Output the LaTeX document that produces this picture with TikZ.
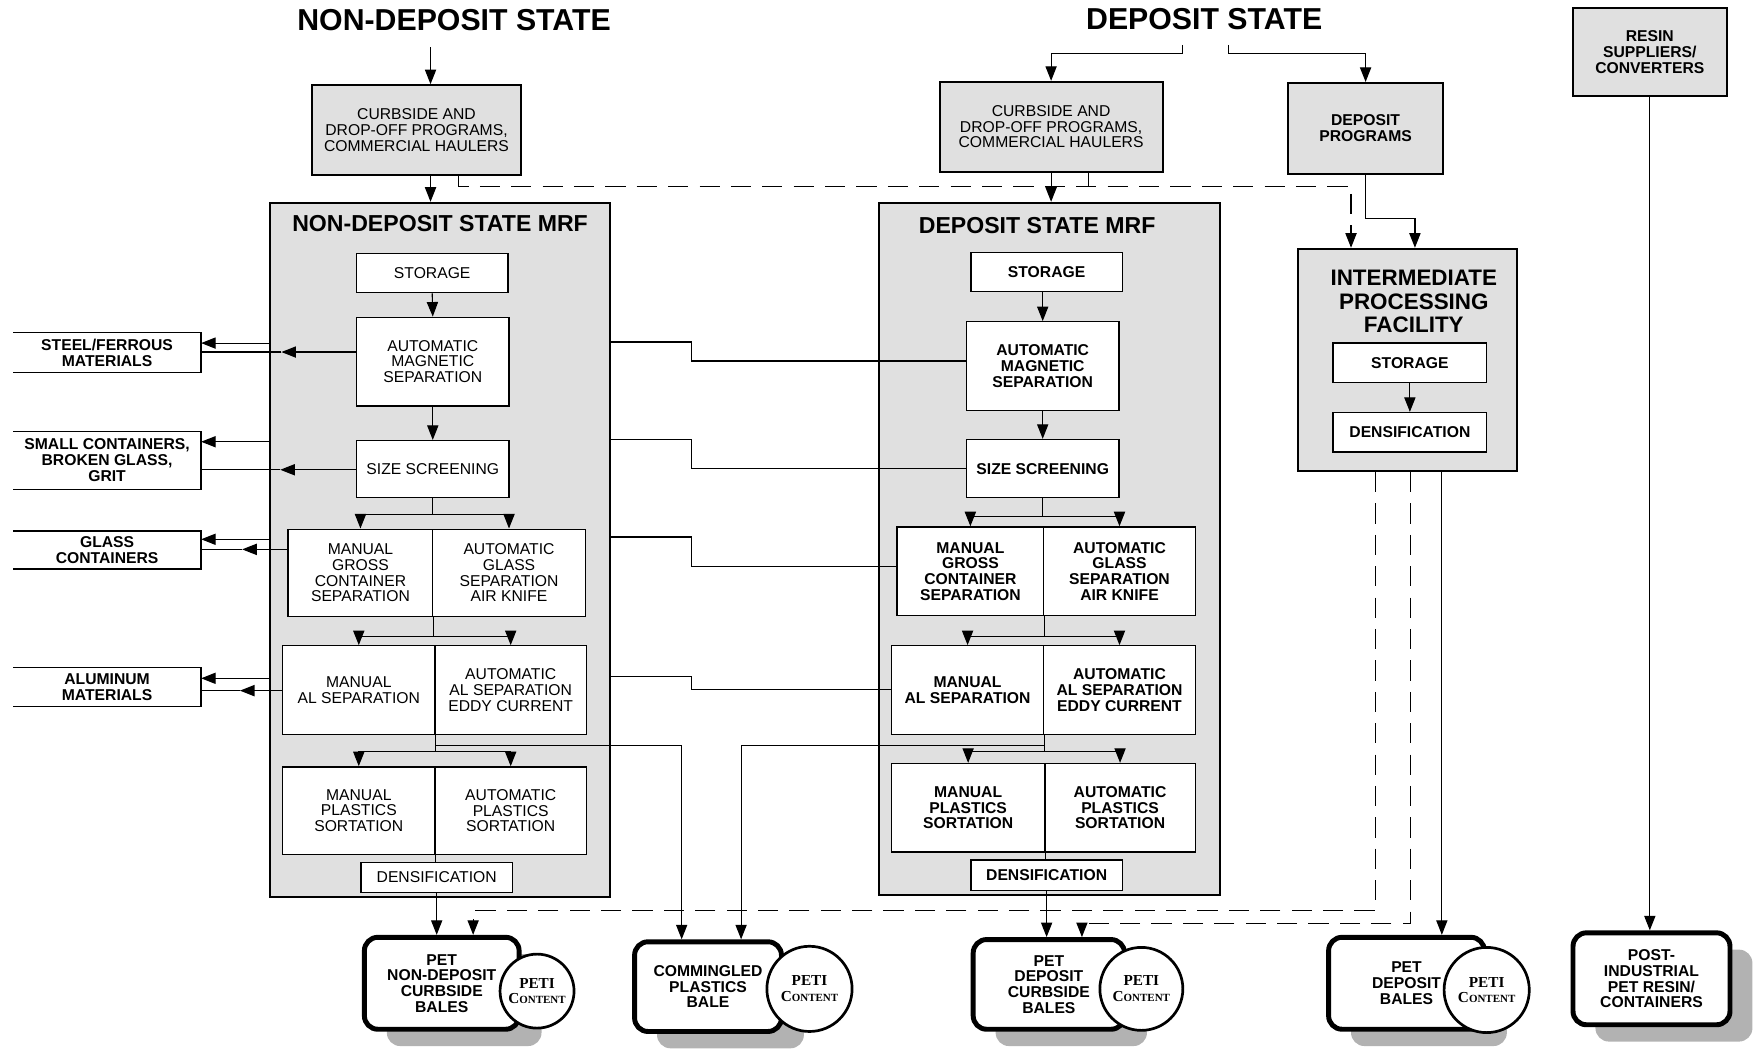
\documentclass[tikz,border=0pt]{standalone}
\usepackage{fontspec}
\setmainfont{Liberation Sans}
\newfontfamily\petiserif{Liberation Serif}
\usetikzlibrary{arrows.meta,shadows}
\newcommand{\petitext}{PETI\\C{\fontsize{4.9}{5}\selectfont ONTENT}}
\begin{document}
\begin{tikzpicture}[x=0.5pt, y=-0.5pt,
    sz/.style 2 args={minimum width=#1*0.5pt, minimum height=#2*0.5pt},
    lite/.style={font=\fontsize{7}{7}\selectfont},
    heavy/.style={font=\bfseries\fontsize{7}{7}\selectfont},
    mrf/.style={draw, line width=1pt, fill=black!12, inner sep=0pt},
    src/.style={draw, line width=0.9pt, fill=black!12, inner sep=0pt, align=center},
    stepbox/.style={draw, line width=0.6pt, fill=white, inner sep=0pt, align=center},
    outbox/.style={inner sep=0pt, align=center, heavy},
    bale/.style={draw, line width=2.2pt, rounded corners=6pt, fill=white, inner sep=0pt,
        align=center, heavy,
        drop shadow={shadow xshift=10pt, shadow yshift=-7.5pt, fill=black!30, opacity=1}},
    peti/.style={circle, draw, line width=1.2pt, fill=white, inner sep=0pt, align=center,
        font=\petiserif\bfseries\fontsize{6.8}{7}\selectfont},
    arr/.style={-{Triangle[length=6.5pt,width=5pt]}, line width=0.5pt},
    link/.style={line width=0.5pt},
    dsh/.style={dash pattern=on 9pt off 5pt, line width=0.6pt}]
    \useasboundingbox (0,0) rectangle (1568,936);
    %% titles
    \node[font=\bfseries\fontsize{13.5}{14}\selectfont] (ndtitle) at (405,18) {NON-DEPOSIT STATE};
    \node[font=\bfseries\fontsize{13.5}{14}\selectfont] (dtitle) at (1074,17) {DEPOSIT STATE};
    \coordinate (ndin) at (384,42);
    \coordinate (dinL) at (1055,40);
    \coordinate (dinR) at (1096,40);
    %% sources
    \node[src, sz={187}{80}, lite] (ndsrc) at (371.5,116) {CURBSIDE AND\\DROP-OFF PROGRAMS,\\COMMERCIAL HAULERS};
    \node[src, sz={199}{80}, lite] (dsrc) at (937.5,113) {CURBSIDE AND\\DROP-OFF PROGRAMS,\\COMMERCIAL HAULERS};
    \node[src, sz={138}{81}, heavy] (dprog) at (1218,114.5) {DEPOSIT\\PROGRAMS};
    \node[src, sz={137}{79}, heavy] (resin) at (1471.5,46.5) {RESIN\\SUPPLIERS/\\CONVERTERS};
    %% non-deposit MRF
    \node[mrf, sz={303}{619}] (ndmrf) at (392.5,490.5) {};
    \node[font=\bfseries\fontsize{10.3}{11}\selectfont] (ndmrft) at (392.5,199) {NON-DEPOSIT STATE MRF};
    \node[stepbox, sz={135}{35}, lite] (ndstor) at (385.5,243.5) {STORAGE};
    \node[stepbox, sz={136}{79}, lite] (ndmag) at (386,322.5) {AUTOMATIC\\MAGNETIC\\SEPARATION};
    \node[stepbox, sz={136}{51}, lite] (ndsize) at (386,418.5) {SIZE SCREENING};
    \node[stepbox, sz={129}{78}, lite] (ndgross) at (321.5,511) {MANUAL\\GROSS\\CONTAINER\\SEPARATION};
    \node[stepbox, sz={136}{78}, lite] (ndglass) at (454,511) {AUTOMATIC\\GLASS\\SEPARATION\\AIR KNIFE};
    \node[stepbox, sz={136}{79}, lite] (ndalman) at (320,615.5) {MANUAL\\AL SEPARATION};
    \node[stepbox, sz={135}{79}, lite] (ndalauto) at (455.5,615.5) {AUTOMATIC\\AL SEPARATION\\EDDY CURRENT};
    \node[stepbox, sz={136}{78}, lite] (ndplman) at (320,723) {MANUAL\\PLASTICS\\SORTATION};
    \node[stepbox, sz={135}{78}, lite] (ndplauto) at (455.5,723) {AUTOMATIC\\PLASTICS\\SORTATION};
    \node[stepbox, sz={135}{27}, lite] (nddens) at (389.5,782.5) {DENSIFICATION};
    %% deposit MRF
    \node[mrf, sz={304}{617}] (dmrf) at (936,489.5) {};
    \node[font=\bfseries\fontsize{10.3}{11}\selectfont] (dmrft) at (925,201) {DEPOSIT STATE MRF};
    \node[stepbox, sz={135}{35}, heavy] (dstor) at (933.5,242.5) {STORAGE};
    \node[stepbox, sz={136}{79}, heavy] (dmag) at (930,326.5) {AUTOMATIC\\MAGNETIC\\SEPARATION};
    \node[stepbox, sz={136}{52}, heavy] (dsize) at (930,418) {SIZE SCREENING};
    \node[stepbox, sz={131}{79}, heavy] (dgross) at (865.5,509.5) {MANUAL\\GROSS\\CONTAINER\\SEPARATION};
    \node[stepbox, sz={135}{79}, heavy] (dglass) at (998.5,509.5) {AUTOMATIC\\GLASS\\SEPARATION\\AIR KNIFE};
    \node[stepbox, sz={136}{79}, heavy] (dalman) at (863,615.5) {MANUAL\\AL SEPARATION};
    \node[stepbox, sz={135}{79}, heavy] (dalauto) at (998.5,615.5) {AUTOMATIC\\AL SEPARATION\\EDDY CURRENT};
    \node[stepbox, sz={137}{79}, heavy] (dplman) at (863.5,720.5) {MANUAL\\PLASTICS\\SORTATION};
    \node[stepbox, sz={134}{79}, heavy] (dplauto) at (999,720.5) {AUTOMATIC\\PLASTICS\\SORTATION};
    \node[stepbox, sz={135}{27}, heavy] (ddens) at (933.5,780.5) {DENSIFICATION};
    %% intermediate processing facility
    \node[mrf, sz={195}{198}] (ipf) at (1255.5,321) {};
    \node[align=center, font=\bfseries\fontsize{10}{10.5}\selectfont] (ipft) at (1261,269) {INTERMEDIATE\\PROCESSING\\FACILITY};
    \node[stepbox, sz={137}{35}, heavy] (istor) at (1257.5,323.5) {STORAGE};
    \node[stepbox, sz={137}{35}, heavy] (idens) at (1257.5,385.5) {DENSIFICATION};
    %% separated materials
    \node[outbox, sz={167}{35}] (steel) at (95.5,314.5) {STEEL/FERROUS\\MATERIALS};
    \node[outbox, sz={167}{51}] (small) at (95.5,410.5) {SMALL CONTAINERS,\\BROKEN GLASS,\\GRIT};
    \node[outbox, sz={167}{33}] (glass) at (95.5,490.5) {GLASS\\CONTAINERS};
    \node[outbox, sz={167}{34}] (alum) at (95.5,613) {ALUMINUM\\MATERIALS};
    \foreach \out in {steel,small,glass,alum}
        \draw[line width=0.6pt] (\out.north west) -- (\out.north east) -- (\out.south east) -- (\out.south west);
    %% bales
    \node[bale, sz={138}{82}] (bnd) at (394,877) {PET\\NON-DEPOSIT\\CURBSIDE\\BALES};
    \node[bale, sz={131}{80}] (bcom) at (631.5,880) {COMMINGLED\\PLASTICS\\BALE};
    \node[bale, sz={135}{80}] (bdc) at (935.5,878) {PET\\DEPOSIT\\CURBSIDE\\BALES};
    \node[bale, sz={139}{82}] (bdep) at (1254.5,877) {PET\\DEPOSIT\\BALES};
    \node[bale, sz={140}{82}] (bpi) at (1473,873) {POST-\\INDUSTRIAL\\PET RESIN/\\CONTAINERS};
    \node[peti, minimum size=33pt] (cnd) at (479,884) {\petitext};
    \node[peti, minimum size=38pt] (ccom) at (722,882) {\petitext};
    \node[peti, minimum size=37pt] (cdc) at (1018,882) {\petitext};
    \node[peti, minimum size=38pt] (cdep) at (1326,883) {\petitext};
    %% non-deposit flow
    \draw[arr] (ndin) -- (ndin |- ndsrc.north);
    \draw[arr] (ndin |- ndsrc.south) -- (ndin |- ndmrf.north);
    \draw[arr] (ndstor.south) -- (ndmag.north);
    \draw[arr] (ndmag.south) -- (ndsize.north);
    \draw[arr] (ndsize.south) -- ++(0,14) -| (ndgross.north);
    \draw[arr] (ndsize.south) ++(0,14) -| (ndglass.north);
    \draw[arr] (ndgross.south east) -- ++(0,17) -| (ndalman.north);
    \draw[arr] (ndgross.south east) ++(0,17) -| (ndalauto.north);
    \draw[arr] (ndalman.south east) -- ++(0,15) -| (ndplman.north);
    \draw[arr] (ndalman.south east) ++(0,15) -| (ndplauto.north);
    \draw[link] (ndplman.south east) -- (ndplman.south east |- nddens.north);
    \draw[arr] (nddens.south) -- (nddens.south |- bnd.north);
    \draw[arr] (ndalman.south east) ++(0,9) -| (608,0 |- bcom.north);
    %% separated materials out of the MRFs
    \foreach \out/\from/\ya/\yb/\tip in {steel/ndmag/306/314/251, small/ndsize/394/419/250,
            glass/ndgross/481/490/216, alum/ndalman/605/616/214} {
        \draw[arr] (ndmrf.west |- 0,\ya) -- (\out.east |- 0,\ya);
        \draw[arr] (\from.west |- 0,\yb) -- (\tip,\yb);
        \draw[link] (\tip,\yb) -- (\out.east |- 0,\yb);
    }
    %% deposit MRF links through the non-deposit MRF
    \foreach \ya/\yb/\to in {305/322/dmag, 392/418/dsize, 479/505/dgross, 603/615/dalman}
        \draw[link] (ndmrf.east |- 0,\ya) -| (617,\yb) -- (\to.west |- 0,\yb);
    %% deposit flow
    \draw[arr] (dinL) -- ++(0,8) -| (dsrc.north);
    \draw[arr] (dinR) -- ++(0,8) -| (dprog.north);
    \draw[arr] (dsrc.south) -- (dsrc.south |- dmrf.north);
    \draw[arr] (dmag.north |- dstor.south) -- (dmag.north);
    \draw[arr] (dmag.south) -- (dsize.north);
    \draw[arr] (dsize.south) -- ++(0,16) -| (dgross.north);
    \draw[arr] (dsize.south) ++(0,16) -| (dglass.north);
    \draw[arr] (dgross.south east) -- ++(0,18) -| (dalman.north);
    \draw[arr] (dgross.south east) ++(0,18) -| (dalauto.north);
    \draw[arr] (dalman.south east) -- ++(0,15) -| (dplman.north);
    \draw[arr] (dalman.south east) ++(0,15) -| (dplauto.north);
    \draw[link] (dplman.south east) -- (dplman.south east |- ddens.north);
    \draw[arr] (ddens.south) -- (ddens.south |- bdc.north);
    \draw[arr] (dalman.south east) ++(0,9) -| (661,0 |- bcom.north);
    %% to and from the intermediate processing facility
    \draw[dsh, arr] (409,0 |- ndsrc.south) |- (1205,166) -- (1205,0 |- ipf.north);
    \draw[dsh] (971,0 |- dsrc.south) -- (971,166);
    \draw[arr] (dprog.south) |- (1262,195) -- (1262,0 |- ipf.north);
    \draw[arr] (istor.south) -- (idens.north);
    \draw[dsh, arr] (1227,0 |- ipf.south) |- (422,812) -- (422,0 |- bnd.north);
    \draw[dsh, arr] (1258,0 |- ipf.south) |- (965,824) -- (965,0 |- bdc.north);
    \draw[arr] (1286,0 |- ipf.south) -- (1286,0 |- bdep.north);
    %% post-industrial
    \draw[arr] (resin.south) -- (resin.south |- bpi.north);
\end{tikzpicture}
\end{document}
